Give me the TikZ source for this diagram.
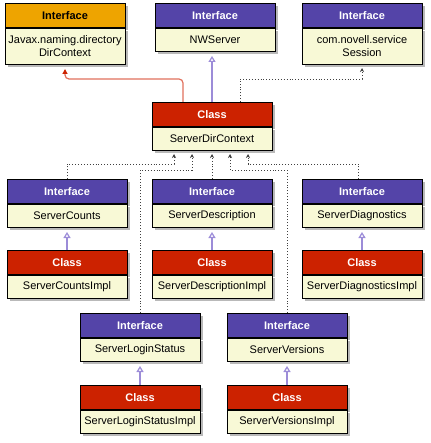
\documentclass[tikz,border=0pt]{standalone}
\usepackage{fontspec}
\setmainfont{Liberation Sans}
\usetikzlibrary{arrows.meta,calc,positioning,shadows}

\definecolor{ifcpurple}{HTML}{5444A8}
\definecolor{ifcorange}{HTML}{EEA400}
\definecolor{clsred}{HTML}{CC2200}
\definecolor{boxcream}{HTML}{F8F9D6}
\definecolor{realize}{HTML}{9C8CD8}
\definecolor{extendln}{HTML}{E0705C}
\newcommand{\umlfont}{\fontsize{11}{13}\selectfont}

\tikzset{
  box/.style={draw=black, line width=1pt, minimum width=120pt, inner sep=0pt,
              drop shadow={shadow xshift=2.5pt, shadow yshift=-2.5pt, fill=black!55}},
  hdr/.style={box, minimum height=24pt, anchor=north, font=\umlfont\bfseries},
  ifc/.style={hdr, fill=ifcpurple, text=white},
  ifcx/.style={hdr, fill=ifcorange, text=black},
  cls/.style={hdr, fill=clsred, text=white},
  body/.style={box, fill=boxcream, minimum height=23pt, align=center, font=\umlfont},
  bodytwo/.style={body, minimum height=36pt},
  gen/.style={draw=realize, line width=1.2pt,
              -{Triangle[open, length=6pt, width=7pt, fill=white]}, shorten >=4pt},
  ext/.style={draw=extendln, line width=1.2pt, rounded corners=4pt,
              -{Triangle[length=5pt, width=5pt, color=clsred]}, shorten >=4pt},
  dep/.style={draw=black!75, dotted, line width=0.9pt,
              -{Stealth[length=4pt, width=4pt]}, shorten >=3pt}
}

\begin{document}
\begin{tikzpicture}[x=1pt,y=-1pt]
  \useasboundingbox (0,0) rectangle (430,443);

  % --- fila superior
  \node[ifcx] (ctxT) at (65,3) {Interface};
  \node[bodytwo, below=0pt of ctxT] (ctx) {Javax.naming.directory\\DirContext};
  \node[ifc] (nwsT) at (215,3) {Interface};
  \node[body, below=0pt of nwsT] (nws) {NWServer};
  \node[ifc] (sesT) at (362,3) {Interface};
  \node[bodytwo, below=0pt of sesT] (ses) {com.novell.service\\Session};

  % --- clase central
  \node[cls] (sdcT) at (212,102) {Class};
  \node[body, below=0pt of sdcT] (sdc) {ServerDirContext};

  % --- fila media
  \node[ifc] (cntT) at (67,179) {Interface};
  \node[body, below=0pt of cntT] (cnt) {ServerCounts};
  \node[cls] (cntIT) at (67,250) {Class};
  \node[body, below=0pt of cntIT] (cntI) {ServerCountsImpl};

  \node[ifc] (dscT) at (212,179) {Interface};
  \node[body, below=0pt of dscT] (dsc) {ServerDescription};
  \node[cls] (dscIT) at (212,250) {Class};
  \node[body, below=0pt of dscIT] (dscI) {ServerDescriptionImpl};

  \node[ifc] (diaT) at (362,179) {Interface};
  \node[body, below=0pt of diaT] (dia) {ServerDiagnostics};
  \node[cls] (diaIT) at (362,250) {Class};
  \node[body, below=0pt of diaIT] (diaI) {ServerDiagnosticsImpl};

  % --- fila inferior
  \node[ifc] (lgsT) at (140,313) {Interface};
  \node[body, below=0pt of lgsT] (lgs) {ServerLoginStatus};
  \node[cls] (lgsIT) at (140,385) {Class};
  \node[body, below=0pt of lgsIT] (lgsI) {ServerLoginStatusImpl};

  \node[ifc] (verT) at (287,313) {Interface};
  \node[body, below=0pt of verT] (ver) {ServerVersions};
  \node[cls] (verIT) at (287,385) {Class};
  \node[body, below=0pt of verIT] (verI) {ServerVersionsImpl};

  % --- niveles de los conectores
  \coordinate (topbus) at (0,79);
  \coordinate (lowA) at (0,164);
  \coordinate (lowB) at (0,170);

  % --- ServerDirContext hacia arriba
  \draw[ext] ([xshift=-29pt]sdcT.north) -- ([xshift=-29pt]sdcT.north |- topbus) -| (ctx.south);
  \draw[gen] (sdcT.north) -- (sdcT.north |- nws.south);
  \draw[dep] ([xshift=28pt]sdcT.north) -- ([xshift=28pt]sdcT.north |- topbus) -| (ses.south);

  % --- interfaces hacia ServerDirContext
  \draw[dep] (cntT.north) -- (cntT.north |- lowA) -| ([xshift=-38pt]sdc.south);
  \draw[dep] (lgsT.north) -- (lgsT.north |- lowB) -| ([xshift=-20pt]sdc.south);
  \draw[dep] (dscT.north) -- (sdc.south);
  \draw[dep] (verT.north) -- (verT.north |- lowB) -| ([xshift=18pt]sdc.south);
  \draw[dep] ([xshift=-4pt]diaT.north) -- ([xshift=-4pt]diaT.north |- lowA) -| ([xshift=36pt]sdc.south);

  % --- implementaciones
  \draw[gen] (cntIT.north) -- (cnt.south);
  \draw[gen] (dscIT.north) -- (dsc.south);
  \draw[gen] (diaIT.north) -- (dia.south);
  \draw[gen] (lgsIT.north) -- (lgs.south);
  \draw[gen] (verIT.north) -- (ver.south);
\end{tikzpicture}
\end{document}
